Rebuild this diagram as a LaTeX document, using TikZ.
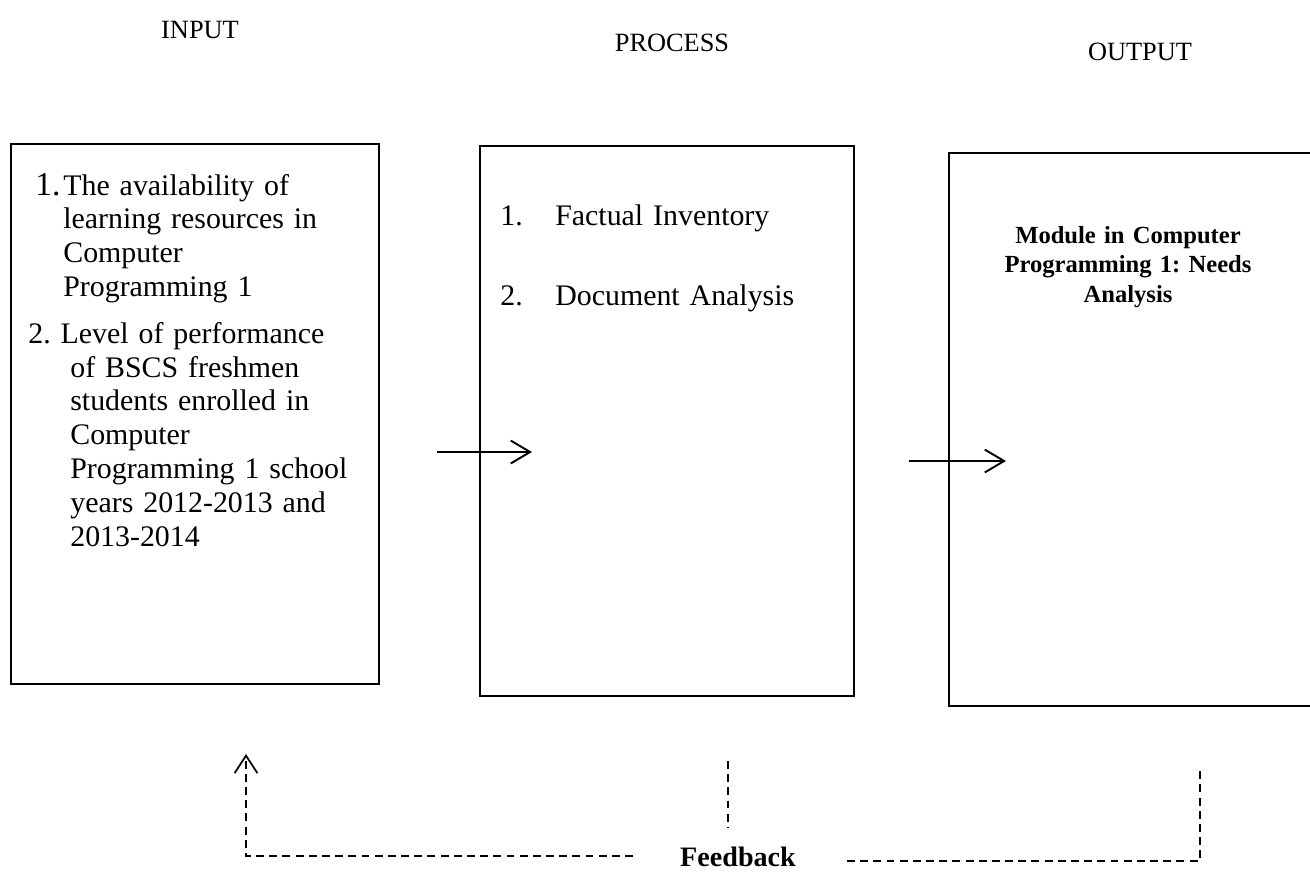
\documentclass[tikz,border=0pt]{standalone}
\usepackage{fontspec}
\setmainfont{Liberation Serif}
\usetikzlibrary{arrows.meta}

\begin{document}
\frenchspacing
\begin{tikzpicture}[
    x=0.02cm, y=-0.02cm,
    stage/.style={
        draw,
        line width=1.1pt,
        anchor=north west,
        inner sep=0pt,
    },
    heading/.style={
        font=\fontsize{15}{17}\selectfont,
    },
    itemtext/.style={
        font=\fontsize{17}{19.3}\selectfont,
        anchor=base west,
        inner sep=0pt,
        text width=7cm,
        align=left,
    },
    outtext/.style={
        font=\fontsize{14}{17}\selectfont\bfseries,
        anchor=base,
        inner sep=0pt,
        text width=7cm,
        align=center,
    },
    flow/.style={
        line width=1.1pt,
        -{Straight Barb[length=11pt, width=13pt, line width=1.1pt]},
    },
    feedback/.style={
        line width=1pt,
        dash pattern=on 4.5pt off 3pt,
    },
]
    \useasboundingbox (0,0) rectangle (1310,872);

    % Headings
    \node[heading] (hin) at (200,30) {INPUT};
    \node[heading] (hproc) at (672,43) {PROCESS};
    \node[heading] (hout) at (1140,52) {OUTPUT};

    % Boxes
    \node[stage, minimum width=7.36cm, minimum height=10.8cm] (inbox) at (10,143) {};
    \node[stage, minimum width=7.48cm, minimum height=11cm] (procbox) at (479,145) {};
    \node[stage, minimum width=7.4cm, minimum height=11.06cm] (outbox) at (948,152) {};

    % Input items
    \node[itemtext, text width=1cm] (in1num) at (35,195) {\fontsize{19}{22}\selectfont 1.};
    \node[itemtext] (in1) at (63,195) {The availability of\\learning resources in\\Computer\\Programming 1};
    \node[itemtext] (in2head) at (28,343) {2. Level of performance};
    \node[itemtext] (in2) at (70,377) {of BSCS freshmen\\students enrolled in\\Computer\\Programming 1 school\\years 2012-2013 and\\2013-2014};

    % Process items
    \node[itemtext, text width=1cm] (p1num) at (500,225) {1.};
    \node[itemtext] (p1) at (555,225) {Factual Inventory};
    \node[itemtext, text width=1cm] (p2num) at (500,305) {2.};
    \node[itemtext] (p2) at (555,305) {Document Analysis};

    % Output
    \node[outtext] (out) at (1128,243) {Module in Computer\\Programming 1: Needs\\Analysis};

    % Flow arrows
    \coordinate (f1s) at (437,452);
    \coordinate (f1e) at (532,452);
    \coordinate (f2s) at (909,461);
    \coordinate (f2e) at (1006,461);
    \draw[flow] (f1s) -- (f1e);
    \draw[flow] (f2s) -- (f2e);

    % Feedback loop
    \node[font=\fontsize{16}{18}\selectfont\bfseries, anchor=base] (fb) at (738,866) {Feedback};
    \coordinate (fbtip) at (246,754);
    \coordinate (fbleft) at (633,856);
    \coordinate (fbright) at (847,861);
    \coordinate (fbtop) at (1200,769);
    \coordinate (fbmid1) at (728,761);
    \coordinate (fbmid2) at (728,828);
    \draw[feedback, -{Straight Barb[length=10pt, width=13pt, line width=1pt]}] (fbleft) -| (fbtip);
    \draw[feedback] (fbright) -| (fbtop);
    \draw[feedback] (fbmid1) -- (fbmid2);
\end{tikzpicture}
\end{document}
